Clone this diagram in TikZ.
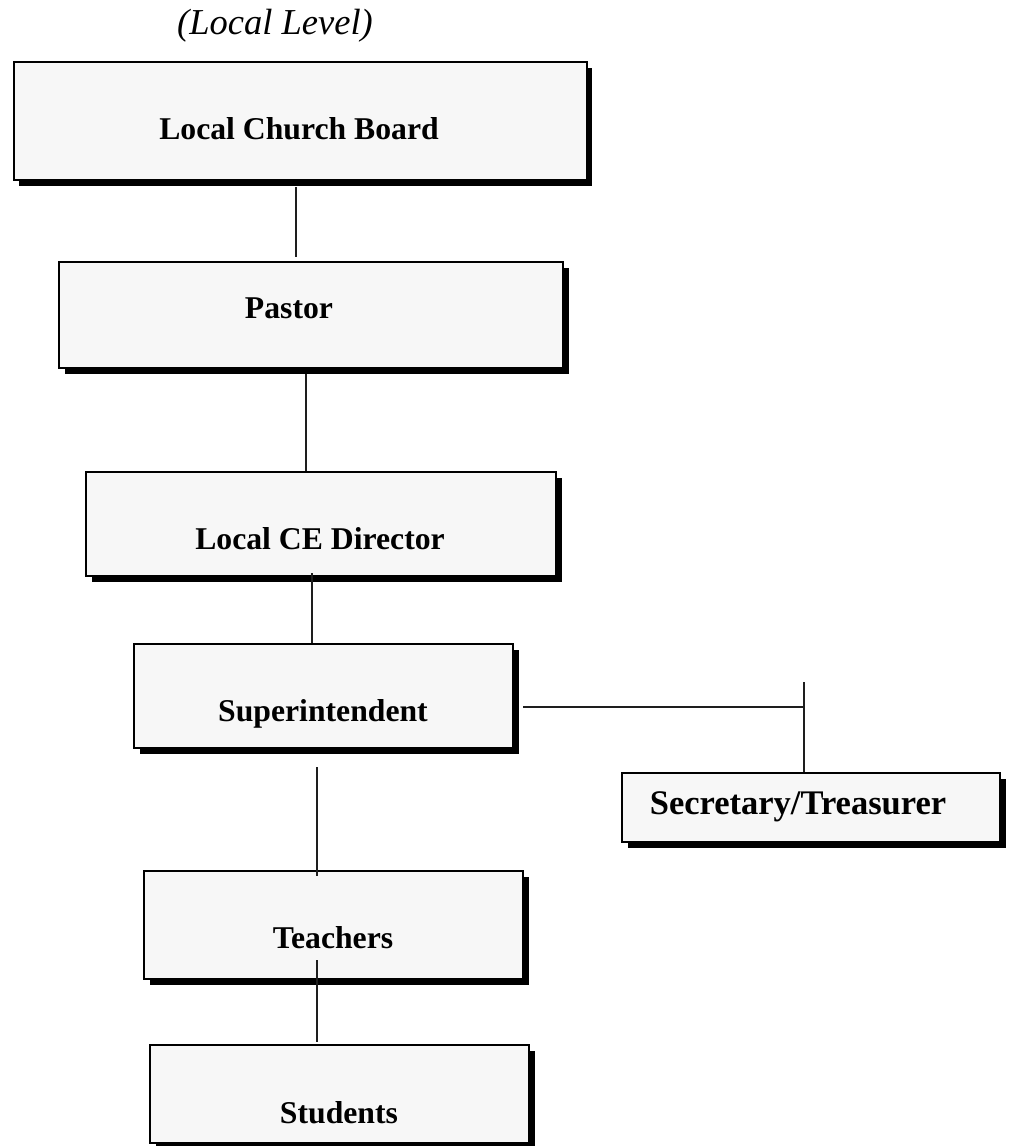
\documentclass[tikz,border=0pt]{standalone}
\usepackage{fontspec}
\setmainfont{Liberation Serif}
\usetikzlibrary{calc,shadows}

\tikzset{
  orgbox/.style={draw=black, line width=2pt, fill=boxfill, rectangle,
    inner sep=0pt, outer sep=0pt,
    drop shadow={shadow xshift=5.5pt, shadow yshift=-5.5pt, fill=black, opacity=1}},
  lbl/.style={anchor=base, inner sep=0pt, font=\bfseries\fontsize{31.7}{38}\selectfont},
  link/.style={draw=linkgray, line width=1.4pt}
}
\definecolor{boxfill}{HTML}{F7F7F7}
\definecolor{linkgray}{HTML}{1E1E1E}

\begin{document}
\begin{tikzpicture}[x=1pt, y=-1pt]
  \useasboundingbox (0,0) rectangle (1011,1146);

  % heading
  \node[anchor=base, inner sep=0pt, font=\itshape\fontsize{36.5}{42}\selectfont]
    (title) at (275,34) {(Local Level)};

  % boxes of the hierarchy
  \node[orgbox, minimum width=573pt, minimum height=118pt] (board)    at (300,121)    {};
  \node[orgbox, minimum width=504pt, minimum height=106pt] (pastor)   at (311,315)    {};
  \node[orgbox, minimum width=470pt, minimum height=104pt] (ce)       at (321,524)    {};
  \node[orgbox, minimum width=379pt, minimum height=104pt] (sup)      at (323.5,696)  {};
  \node[orgbox, minimum width=378pt, minimum height=69pt]  (sec)      at (811,807.5)  {};
  \node[orgbox, minimum width=379pt, minimum height=108pt] (teachers) at (333.5,925)  {};
  \node[orgbox, minimum width=379pt, minimum height=98pt]  (students) at (339.5,1094) {};

  % box labels
  \node[lbl] (board-t)    at (299,139)  {Local Church Board};
  \node[lbl] (pastor-t)   at (289,318)  {Pastor};
  \node[lbl] (ce-t)       at (320,549)  {Local CE Director};
  \node[lbl] (sup-t)      at (323,721)  {Superintendent};
  \node[lbl, font=\bfseries\fontsize{34.5}{40}\selectfont] (sec-t) at (798,814) {Secretary/Treasurer};
  \node[lbl] (teachers-t) at (333,948)  {Teachers};
  \node[lbl] (students-t) at (339,1123) {Students};

  % connectors
  \draw[link] ($(board.south)+(-4,7)$)    -- ($(pastor.north)+(-15,-5)$);
  \draw[link] ($(pastor.south)+(-5,6)$)   -- ($(ce.north)+(-15,-1)$);
  \draw[link] ($(ce.south)+(-9,-3)$)      -- ($(sup.north)+(-11.5,-1)$);
  \draw[link] ($(sup.east)+(10,11)$)      -- ($(sec.north)+(-7,-66)$);
  \draw[link] ($(sec.north)+(-7,-91)$)    -- ($(sec.north)+(-7,-1)$);
  \draw[link] ($(sup.south)+(-6.5,19)$)   -- ($(teachers.north)+(-16.5,5)$);
  \draw[link] ($(teachers.south)+(-16.5,-19)$) -- ($(students.north)+(-22.5,-3)$);
\end{tikzpicture}
\end{document}
